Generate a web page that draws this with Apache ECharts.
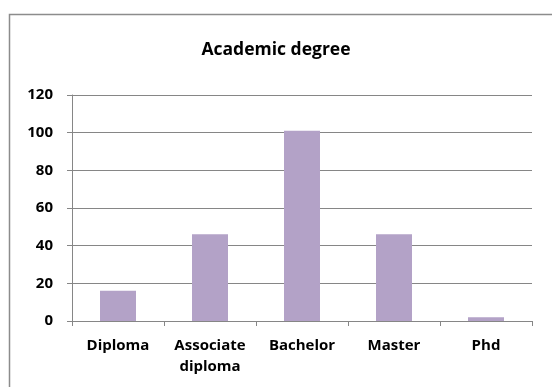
<!DOCTYPE html>
<html>
<head>
<meta charset="utf-8">
<script src="https://cdn.jsdelivr.net/npm/echarts@6/dist/echarts.min.js"></script>
<style>
  html, body { margin: 0; padding: 0; background: #fff; }
  #chart { width: 552px; height: 387px; }
</style>
</head>
<body>
<div id="chart"></div>
<script>
// chart data
const categories = ["Diploma", "Associate\ndiploma", "Bachelor", "Master", "Phd"];
const degreeCounts = [16, 46, 101, 46, 2];
const yTicks = { min: 0, max: 120, interval: 20 };

const chart = echarts.init(document.getElementById("chart"));
const fontFamily = "'Open Sans', sans-serif";

const option = {
  animation: false,
  backgroundColor: "#fff",
  title: {
    text: "Academic degree",
    left: "center",
    top: 36,
    textStyle: { fontFamily, fontSize: 17.5, fontWeight: "bold", color: "#000" }
  },
  // outer chart-area border
  graphic: [{
    type: "rect",
    shape: { x: 9.5, y: 14.5, width: 600, height: 420 },
    style: { fill: null, stroke: "#8c8c8c", lineWidth: 1.5 },
    silent: true
  }],
  grid: { left: 72, right: 20, top: 95, bottom: 66, containLabel: false },
  xAxis: {
    type: "category",
    data: categories,
    axisLine: { lineStyle: { color: "#868686", width: 1 } },
    axisTick: { show: true, length: 5, lineStyle: { color: "#868686" } },
    axisLabel: { fontFamily, fontSize: 15, fontWeight: "bold", color: "#000", margin: 14, lineHeight: 21, interval: 0 }
  },
  yAxis: {
    type: "value",
    min: yTicks.min,
    max: yTicks.max,
    interval: yTicks.interval,
    axisLine: { show: true, lineStyle: { color: "#868686", width: 1 } },
    axisTick: { show: true, length: 5, lineStyle: { color: "#868686" } },
    axisLabel: { fontFamily, fontSize: 15, fontWeight: "bold", color: "#000", margin: 19 },
    splitLine: { show: true, lineStyle: { color: "#868686", width: 1 } }
  },
  series: [{
    type: "bar",
    data: degreeCounts,
    barWidth: 36,
    itemStyle: { color: "#B3A2C7" }
  }]
};

chart.setOption(option);
</script>
</body>
</html>
